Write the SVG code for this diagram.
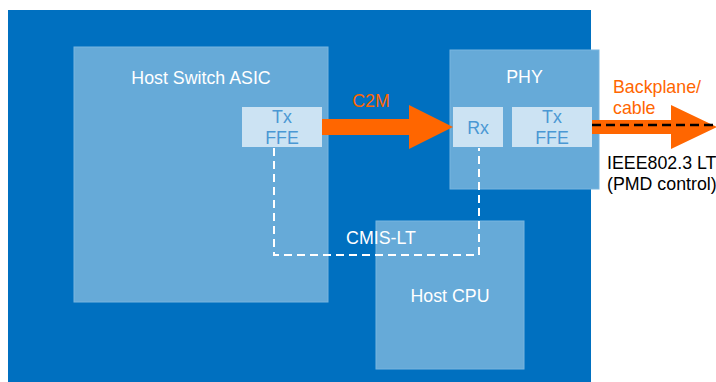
<svg xmlns="http://www.w3.org/2000/svg" width="716" height="382" viewBox="0 0 716 382">
  <style>
    .box { fill: #66aad8; stroke: #78b5df; stroke-width: 1; }
    .port { fill: #cce3f3; }
    .lbl { font-family: "Liberation Sans", Arial, sans-serif; font-size: 17.8px; text-anchor: middle; }
    .white { fill: #ffffff; }
    .portText { fill: #4a98d4; }
    .orange { fill: #ff6600; }
    .dark { fill: #000000; }
    .dashW { fill: none; stroke: #ffffff; stroke-width: 2; stroke-dasharray: 8 5; }
    .dashK { fill: none; stroke: #000000; stroke-width: 2.5; stroke-dasharray: 9 5; }
  </style>

  <!-- host board background -->
  <rect x="8" y="10" width="583" height="372" fill="#0070c0"/>

  <g id="host-switch-asic">
    <rect class="box" x="74" y="47" width="254" height="255"/>
    <text class="lbl white" x="201" y="84">Host Switch ASIC</text>
    <rect class="port" x="242" y="107" width="80" height="40"/>
    <text class="lbl portText" x="282" y="123">Tx</text>
    <text class="lbl portText" x="282" y="144">FFE</text>
  </g>

  <g id="phy">
    <rect class="box" x="450" y="50" width="149" height="139"/>
    <text class="lbl white" x="524.5" y="83">PHY</text>
    <rect class="port" x="453" y="107" width="50" height="40"/>
    <text class="lbl portText" x="478" y="134">Rx</text>
    <rect class="port" x="512" y="107" width="80" height="40"/>
    <text class="lbl portText" x="552" y="123">Tx</text>
    <text class="lbl portText" x="552" y="144">FFE</text>
  </g>

  <g id="host-cpu">
    <rect class="box" x="376" y="221" width="148" height="148"/>
    <text class="lbl white" x="450" y="302">Host CPU</text>
  </g>

  <g id="connectors">
    <!-- C2M link: ASIC Tx to PHY Rx -->
    <polygon class="orange" points="322,119 409,119 409,105 453,127 409,149 409,135 322,135"/>
    <text class="lbl orange" x="371" y="107">C2M</text>

    <!-- backplane / cable link out of PHY Tx -->
    <polygon class="orange" points="592,120 671,120 671,105 717,127 671,149 671,134 592,134"/>
    <line class="dashK" x1="592" y1="125" x2="716" y2="125"/>
    <text class="lbl orange" x="613" y="93" style="text-anchor:start">Backplane/</text>
    <text class="lbl orange" x="613" y="114" style="text-anchor:start">cable</text>
    <text class="lbl dark" x="607" y="169" style="text-anchor:start">IEEE802.3 LT</text>
    <text class="lbl dark" x="607" y="190" style="text-anchor:start">(PMD control)</text>

    <!-- CMIS link training path -->
    <polyline class="dashW" points="274,148 274,255 479,255 479,148"/>
    <text class="lbl white" x="381" y="244">CMIS-LT</text>
  </g>
</svg>
